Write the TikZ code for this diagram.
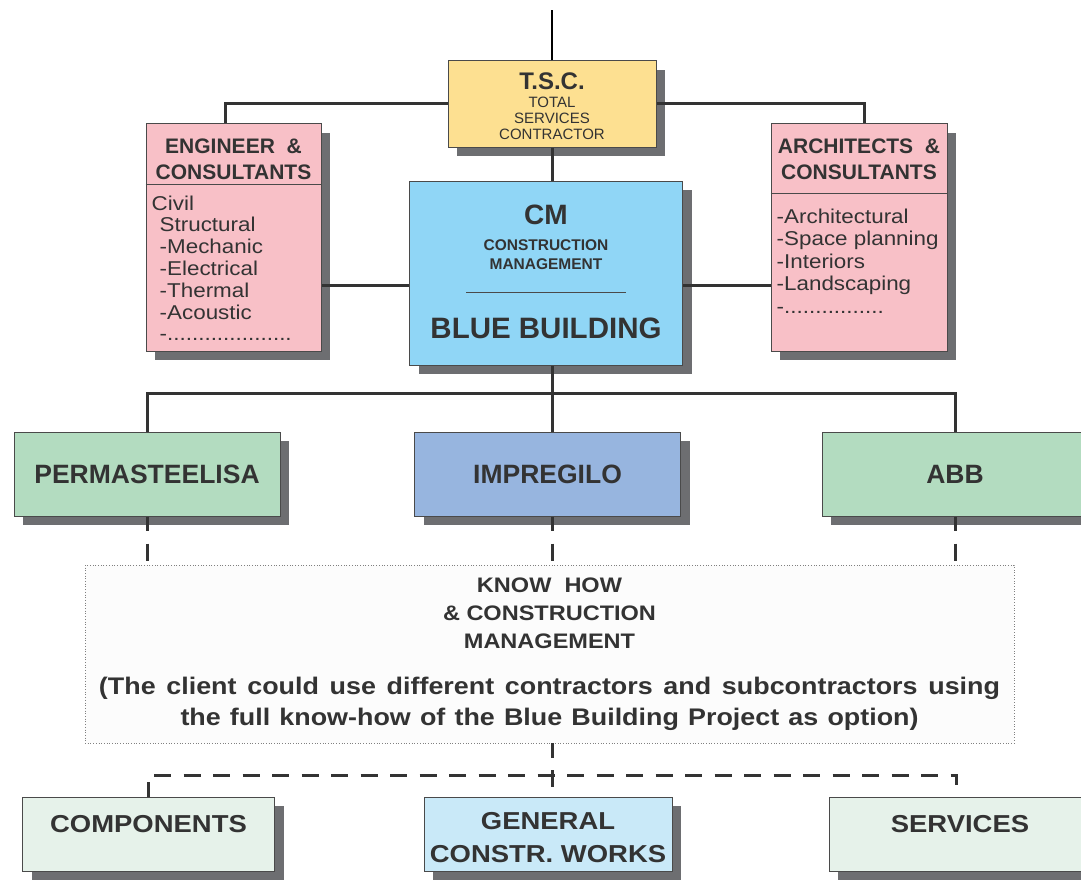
\documentclass[tikz,border=0pt]{standalone}
\usepackage{fontspec}
\setmainfont{Liberation Sans}
\newfontfamily\widefont{Liberation Sans}[FakeStretch=1.12]
\usepackage{tikz}
\usetikzlibrary{shadows}

\definecolor{linec}{HTML}{333333}
\definecolor{textc}{HTML}{333333}
\definecolor{boxc}{HTML}{4A4A4A}
\definecolor{shadowc}{HTML}{6D6E71}
\definecolor{tscc}{HTML}{FDE091}
\definecolor{pinkc}{HTML}{F8C0C7}
\definecolor{cmc}{HTML}{90D6F6}
\definecolor{greenc}{HTML}{B3DCC0}
\definecolor{imprc}{HTML}{97B5DF}
\definecolor{palegreenc}{HTML}{E6F2EA}
\definecolor{palebluec}{HTML}{C9E9F8}
\definecolor{khc}{HTML}{FCFCFC}

\begin{document}
\begin{tikzpicture}
[x=1pt, y=-1pt]
\tikzset{
	box/.style = {rectangle, draw=boxc, line width=1pt, text=textc, inner sep=0pt, align=center,
		general shadow={fill=shadowc, shadow xshift=9pt, shadow yshift=-9pt}},
	firm/.style = {box, minimum width=266pt, minimum height=84pt, font=\bfseries\fontsize{26.5}{30}\selectfont},
	works/.style = {box, minimum height=74pt, font=\widefont\bfseries\fontsize{24.5}{33}\selectfont},
	head/.style = {text=textc, inner sep=0pt, align=center, font=\bfseries\fontsize{21}{26}\selectfont},
	list/.style = {text=textc, inner sep=0pt, align=left, anchor=north west},
	link/.style = {draw=linec, line width=3pt},
	dlink/.style = {link, dash pattern=on 17pt off 12.5pt, dash phase=2.5pt},
	sep/.style = {draw=boxc, line width=1pt}
}
\useasboundingbox (0,0) rectangle (1081,880);
\clip (0,0) rectangle (1081,880);

% top level
\coordinate (top) at (552,10);
\node (tsc) [box, fill=tscc, minimum width=208pt, minimum height=86pt, font=\fontsize{15}{16}\selectfont] at (552,104)
	{\rule{0pt}{21pt}{\fontsize{24}{24}\selectfont\bfseries T.S.C.}\\[1.5pt]TOTAL\\SERVICES\\CONTRACTOR};

% consultants
\node (eng) [box, fill=pinkc, minimum width=175pt, minimum height=227pt] at (233.5,237.5) {};
\node (engh) [head, anchor=north] at ([yshift=-15pt]eng.north) {ENGINEER~~\&\\CONSULTANTS};
\coordinate (engs) at ([yshift=-61pt]eng.north);
\node (engl) [list, font=\widefont\fontsize{20}{21.8}\selectfont] at ([shift={(6,72)}]eng.north west)
	{Civil\\\hspace*{8pt}Structural\\\hspace*{8pt}-Mechanic\\\hspace*{8pt}-Electrical\\\hspace*{8pt}-Thermal\\\hspace*{8pt}-Acoustic\\\hspace*{8pt}-....................};

\node (arch) [box, fill=pinkc, minimum width=176pt, minimum height=227pt] at (859,237.5) {};
\node (archh) [head, anchor=north] at ([yshift=-15pt]arch.north) {ARCHITECTS~~\&\\CONSULTANTS};
\coordinate (archs) at ([yshift=-70pt]arch.north);
\node (archl) [list, font=\widefont\fontsize{20}{22.5}\selectfont] at ([shift={(6,85)}]arch.north west)
	{-Architectural\\-Space planning\\-Interiors\\-Landscaping\\-................};

% construction management
\node (cm) [box, fill=cmc, minimum width=273pt, minimum height=184pt, text depth=3pt, font=\bfseries\fontsize{15.5}{19}\selectfont] at (546,273)
	{{\fontsize{28}{28}\selectfont CM}\\[7pt]CONSTRUCTION\\MANAGEMENT\\[47pt]{\fontsize{29.5}{30}\selectfont BLUE BUILDING}};
\coordinate (cmsep) at ([yshift=-112pt]cm.north);

% contractors
\node (perm) [firm, fill=greenc] at (147,474) {PERMASTEELISA};
\node (impr) [firm, fill=imprc] at (547.5,474) {IMPREGILO};
\node (abb) [firm, fill=greenc] at (955,474) {ABB};

\node (kh) [rectangle, draw=gray, dotted, line width=0.7pt, fill=khc, text=textc, inner sep=0pt, align=center,
	minimum width=929pt, minimum height=178pt, font=\widefont\bfseries\fontsize{21}{28}\selectfont] at (549.5,654)
	{KNOW~~HOW\\\& CONSTRUCTION\\MANAGEMENT\\[18pt]
	{\fontsize{24}{28}\selectfont\makebox[901pt][s]{(The client could use different contractors and subcontractors using}}\\[3pt]
	{\fontsize{24}{28}\selectfont\makebox[738pt][s]{the full know-how of the Blue Building Project as option)}}};

\node (comp) [works, fill=palegreenc, minimum width=252pt, text depth=21pt] at (148.5,834) {COMPONENTS};
\node (gen) [works, fill=palebluec, minimum width=248pt] at (548,834) {\rule{0pt}{23.5pt}GENERAL\\CONSTR. WORKS};
\node (serv) [works, fill=palegreenc, minimum width=262pt, text depth=21pt] at (960,834) {SERVICES};

% connectors
\draw [draw=black, line width=2pt] (tsc.north) -- (top);
\draw [link] (tsc.west) -| ([xshift=-8.5pt]eng.north);
\draw [link] (tsc.east) -| ([xshift=5pt]arch.north);
\draw [link] (tsc.south) -- (tsc.south |- cm.north);
\coordinate (cml) at ([yshift=-12pt]cm.west);
\coordinate (cmr) at ([yshift=-12pt]cm.east);
\draw [link] (cml) -- (cml -| eng.east);
\draw [link] (cmr) -- (cmr -| arch.west);
\draw [sep] (engs -| eng.west) -- (engs -| eng.east);
\draw [sep] (archs -| arch.west) -- (archs -| arch.east);
\draw [sep] ([xshift=-80pt]cmsep) -- ([xshift=80pt]cmsep);

\coordinate (bus) at (552,393);
\draw [link] (tsc.south |- cm.south) -- (tsc.south |- impr.north);
\draw [link] (perm.north) |- (bus) -| (abb.north);

\draw [dlink] (perm.south) -- (perm.south |- kh.north);
\draw [dlink] (tsc.south |- impr.south) -- (tsc.south |- kh.north);
\draw [dlink] (abb.south) -- (abb.south |- kh.north);

\coordinate (bus2) at (552,775);
\coordinate (servtick) at ([shift={(-3.5,-12)}]serv.north);
\draw [dlink] (tsc.south |- kh.south) -- (tsc.south |- gen.north);
\draw [dlink] (comp.north) |- (bus2) -| (servtick);

\end{tikzpicture}
\end{document}
